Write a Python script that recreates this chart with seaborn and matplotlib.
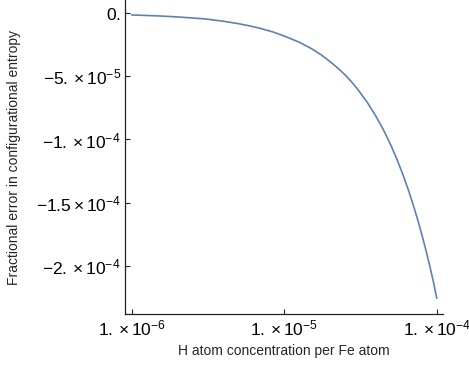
import numpy as np
import pandas as pd
import matplotlib
matplotlib.use("Agg")
import matplotlib.pyplot as plt
import seaborn as sns

# Data
conc = [1e-6, 1.5e-6, 2e-6, 3e-6, 4e-6, 5e-6, 6e-6, 7e-6, 8.5e-6, 1e-5,
        1.25e-5, 1.5e-5, 1.75e-5, 2e-5, 2.25e-5, 2.5e-5, 2.75e-5, 3e-5,
        3.5e-5, 4e-5, 4.5e-5, 5e-5, 5.5e-5, 6e-5, 6.5e-5, 7e-5, 7.5e-5,
        8e-5, 8.5e-5, 9e-5, 9.5e-5, 1e-4]
frac_err = [-1.5e-6, -2.3e-6, -3.1e-6, -4.6e-6, -6.5e-6, -8.4e-6, -1.03e-5,
            -1.22e-5, -1.51e-5, -1.82e-5, -2.30e-5, -2.80e-5, -3.31e-5,
            -3.85e-5, -4.36e-5, -4.88e-5, -5.42e-5, -5.96e-5, -7.06e-5,
            -8.18e-5, -9.30e-5, -1.045e-4, -1.161e-4, -1.278e-4, -1.396e-4,
            -1.515e-4, -1.635e-4, -1.756e-4, -1.878e-4, -2.000e-4, -2.124e-4,
            -2.255e-4]

x_ticks = [1e-6, 1e-5, 1e-4]
x_tick_labels = [r"$1.\times10^{-6}$", r"$1.\times10^{-5}$", r"$1.\times10^{-4}$"]
y_ticks = [0.0, -5e-5, -1e-4, -1.5e-4, -2e-4]
y_tick_labels = [r"$0.$", r"$-5.\times10^{-5}$", r"$-1.\times10^{-4}$",
                 r"$-1.5\times10^{-4}$", r"$-2.\times10^{-4}$"]

x_label = "H atom concentration per Fe atom"
y_label = "Fractional error in configurational entropy"

sns.set_style("ticks")
plt.rcParams["font.family"] = ["Liberation Sans", "DejaVu Sans"]
plt.rcParams["mathtext.fontset"] = "custom"
plt.rcParams["mathtext.rm"] = "Liberation Sans"
plt.rcParams["mathtext.it"] = "Liberation Sans:italic"
plt.rcParams["mathtext.bf"] = "Liberation Sans:bold"
plt.rcParams["mathtext.default"] = "rm"

df = pd.DataFrame({"x": conc, "y": frac_err})

fig = plt.figure(figsize=(4.69, 3.68), dpi=100)
ax = fig.add_axes([0.2665, 0.1467, 0.9446 - 0.2665, 1.0 - 0.1467])
sns.lineplot(data=df, x="x", y="y", ax=ax, color="#5E81B5", linewidth=1.2)

ax.set_xscale("log")
ax.set_xlim(10 ** -6.044, 10 ** -3.959)
ax.set_ylim(-2.38e-4, 1.03e-5)
ax.set_xticks(x_ticks)
ax.set_xticklabels(x_tick_labels)
ax.xaxis.set_minor_locator(matplotlib.ticker.NullLocator())
ax.set_yticks(y_ticks)
ax.set_yticklabels(y_tick_labels)

for s in ["top", "right"]:
    ax.spines[s].set_visible(False)
for s in ["left", "bottom"]:
    ax.spines[s].set_color("#222222")
    ax.spines[s].set_linewidth(0.9)

ax.tick_params(axis="both", direction="in", length=3.5, width=0.8,
               color="#222222", labelsize=12.5, labelcolor="black", pad=3)
ax.set_xlabel(x_label, fontsize=10)
ax.set_ylabel(y_label, fontsize=10)
ax.yaxis.set_label_coords(-0.327, 0.5)
ax.xaxis.set_label_coords(0.5, -0.097)

fig.savefig("out.png", dpi=100)
